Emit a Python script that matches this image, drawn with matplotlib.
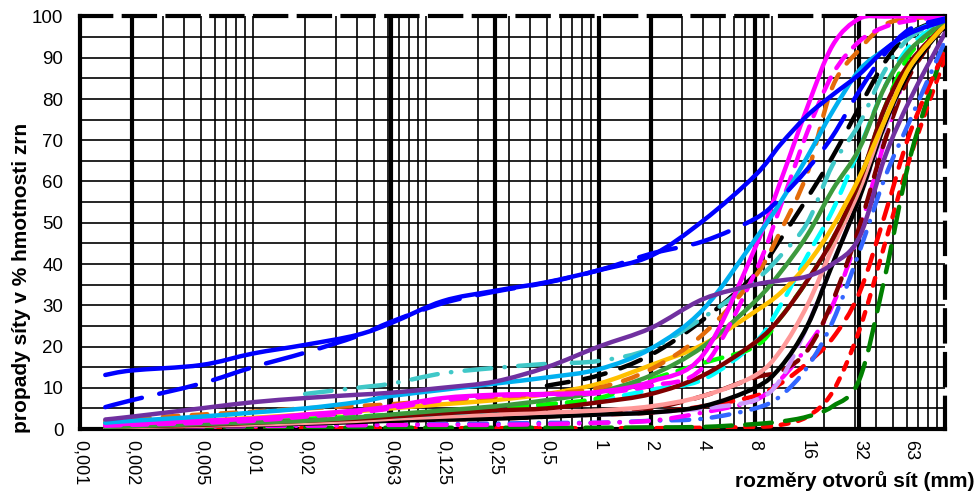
import numpy as np
import matplotlib
matplotlib.use("Agg")
import matplotlib.pyplot as plt
from matplotlib.path import Path
from matplotlib.patches import PathPatch

plt.rcParams['font.family'] = ['Liberation Sans', 'DejaVu Sans']

# --- sítové velikosti (mm), společné pro všechny křivky ---
sieve = [0.0014, 0.002, 0.005, 0.01, 0.02, 0.04, 0.063, 0.125, 0.25, 0.5, 1,
         2, 4, 8, 11.2, 16, 22.4, 32, 45, 63, 100]

# --- propady (%), None = křivka tam není ---
blue_solid = [13.1, 14.2, 15.5, 18.3, 20.4, 22.8, 25.7, 31, 33.5, 35.6, 38.5, 42, 50.5, 61.5, 69, 76, 81, 86, 92, 96, 99]
blue_dash = [5.3, 7, 11, 15, 18.5, 22.5, 26, 30.5, 33.3, 35.5, 38.5, 42.5, 45.5, 51, 56, 63, 71, 82, 91, 97, 99.5]
purple = [2.3, 3, 5, 6.5, 7.5, 8.3, 8.8, 10, 11.5, 15, 20, 24.5, 31.5, 35, 36, 37, 40, 46.5, 66, 80, 96]
light_blue = [1.5, 2, 3, 4, 5, 6.5, 8, 9.5, 11, 12.5, 14.5, 19.5, 29, 46, 55, 66, 77, 87, 92, 96, 99.5]
teal = [None, None, None, None, 8.5, 10, 11, 13.5, 14.8, 15.8, 16.5, 19.5, 27, 36, 42, 50, 64, 74, 87, 95, 99]
black_dash = [None, None, None, None, None, None, None, None, None, 10.5, 13, 18, 26.5, 37.5, 46, 56, 66, 78, 89, 96, 99.5]
orange_dash = [2, 2.5, 3.5, 4.2, 5, 5.6, 6, 7, 7.8, 8.5, 10, 14.5, 23, 37, 48, 62, 83, 92, 98, 99.5, 100]
magenta = [1, 1.3, 2, 2.5, 3.5, 4.5, 5.5, 7.5, 8.3, 8.5, 9, 11.5, 18, 44, 60, 78, 93, 99.5, 100, 100, 100]
magenta_dash = [0.8, 1, 1.5, 2, 3, 4, 5, 7, 8, 8.3, 8.7, 10.5, 15, 38, 54, 72, 86, 94, 97.5, 99, 100]
green = [0.5, 0.7, 1.2, 1.6, 2, 2.8, 3.5, 4.5, 5.5, 7, 9, 13, 20, 31, 38, 47, 58, 68, 83, 92, 99]
gold = [1, 1.3, 2, 2.7, 3.5, 4.3, 5, 6, 7, 8.5, 11, 15.5, 20.5, 28.5, 33, 40, 49, 61, 75, 88, 98]
maroon = [0.5, 0.7, 1, 1.5, 2, 2.5, 3, 3.8, 4.5, 5, 6.5, 8.5, 13, 21, 27, 36, 46, 60, 78, 89, 98]
salmon = [0.3, 0.5, 0.8, 1.1, 1.5, 2, 2.5, 3, 3.5, 4, 4.5, 5.5, 8, 13, 19, 30, 44, 58, 75, 88, 98]
black = [0.3, 0.4, 0.7, 1, 1.3, 1.7, 2, 2.3, 2.5, 3, 3.5, 4, 5.5, 10, 15, 25, 40, 56, 74, 87, 98]
lime_dash = [1.5, 1.7, 2, 2.3, 2.5, 3, 3.5, 4.2, 5, 6, 7.5, 12, 16, 20, 27, 36, 46, 60, 78, 91, 99]
cyan_dash = [1, 1.2, 1.5, 2, 2.3, 2.7, 3, 3.8, 4.5, 5.5, 7, 9.5, 12, 21, 30, 42, 53, 68, 83, 93, 99]
lavender_dash = [1.5, 1.6, 1.8, 2, 2.2, 2.4, 2.5, 2.8, 3, 3.2, 3.5, 4, 5, 7, 12, 25, 40, 56, 73, 88, 98]
darkred_dash = [1, 1.1, 1.3, 1.5, 1.7, 1.9, 2, 2.3, 2.5, 3, 4, 5, 8, 12.5, 14, 19, 31, 49, 70, 86, 98]
red_a = [1, 1.2, 1.4, 1.6, 2, 2.3, 2.5, 2.8, 3, 3.2, 3.5, 4, 5.5, 8, 11, 16, 22, 33, 52, 72, 92]
red_b = [0.2, 0.2, 0.2, 0.2, 0.2, 0.2, 0.2, 0.2, 0.2, 0.2, 0.2, 0.2, 0.3, 0.5, 1, 3, 9, 24, 45, 66, 90]
green_dash = [0.3, 0.3, 0.3, 0.3, 0.3, 0.3, 0.3, 0.3, 0.3, 0.3, 0.3, 0.4, 0.5, 1.2, 1.8, 3, 5.5, 12, 37, 66, 93]
royal_dashdot = [0.5, 0.6, 0.7, 0.8, 0.9, 1, 1, 1.2, 1.3, 1.5, 1.5, 2, 2.5, 5, 8, 15, 26, 43, 61, 75, 94]
magenta_dashdot = [0.5, 0.5, 0.6, 0.7, 0.8, 0.9, 1, 1, 1, 1.2, 1.5, 2, 4, 7, 12, 20, 30, 48, 70, 88, 98]

tick_vals = [0.001, 0.002, 0.005, 0.01, 0.02, 0.063, 0.125, 0.25, 0.5, 1, 2, 4, 8, 16, 32, 63]
tick_labels = ["0,001", "0,002", "0,005", "0,01", "0,02", "0,063", "0,125", "0,25", "0,5",
               "1", "2", "4", "8", "16", "32", "63"]
thick_lines = [0.002, 0.063, 0.25, 1, 2, 8, 32]

# (data, barva, styl čáry) - pořadí kreslení
curves = [
    (red_b, "#FF0000", (0, (1.8, 2.2))),
    (green_dash, "#008000", (0, (6, 3))),
    (red_a, "#FF0000", (0, (3.5, 2.5))),
    (royal_dashdot, "#3366FF", (0, (4, 2.5, 0.1, 2.5))),
    (magenta_dashdot, "#FF00FF", (0, (4, 2.5, 0.1, 2.5))),
    (darkred_dash, "#800000", (0, (4, 3))),
    (lavender_dash, "#CC99FF", (0, (4, 2.5))),
    (black, "black", "-"),
    (salmon, "#FF9999", "-"),
    (cyan_dash, "#00FFFF", (0, (4, 2.5))),
    (lime_dash, "#00FF00", (0, (4, 2.5))),
    (maroon, "#800000", "-"),
    (gold, "#FFC000", "-"),
    (green, "#3D9A3D", "-"),
    (black_dash, "black", (0, (5, 3.5))),
    (teal, "#40C8C8", (0, (6, 3, 0.1, 3))),
    (orange_dash, "#E46C0A", (0, (3.5, 3))),
    (magenta_dash, "#FF00FF", (0, (3.5, 2.5))),
    (magenta, "#FF00FF", "-"),
    (light_blue, "#00B0F0", "-"),
    (purple, "#7030A0", "-"),
    (blue_dash, "#0000FF", (0, (8.5, 4))),
    (blue_solid, "#0000FF", "-"),
]


def smooth_path(xs, ys):
    # vyhlazená čára (Bezier) jako v Excelu, v log-souřadnicích
    pts = np.column_stack([np.log10(xs), ys])
    n = len(pts)
    verts = [pts[0]]
    codes = [Path.MOVETO]
    for i in range(n - 1):
        p0 = pts[i - 1] if i > 0 else pts[i]
        p1, p2 = pts[i], pts[i + 1]
        p3 = pts[i + 2] if i + 2 < n else pts[i + 1]
        verts += [p1 + (p2 - p0) / 6, p2 - (p3 - p1) / 6, p2]
        codes += [Path.CURVE4] * 3
    verts = np.array(verts)
    verts[:, 0] = 10 ** verts[:, 0]
    return Path(verts, codes)


fig = plt.figure(figsize=(9.79, 4.94), dpi=100)
ax = fig.add_axes([80 / 979, 1 - 429 / 494, 865 / 979, 412.5 / 494])
ax.set_xscale("log")
ax.set_xlim(0.001, 100)
ax.set_ylim(0, 100)

# mřížka
for y in range(5, 100, 5):
    ax.axhline(y, color="black", lw=1.2, zorder=1)
for e in range(-3, 2):
    for k in range(1, 10):
        v = k * 10.0 ** e
        if 0.001 < v < 100:
            ax.axvline(v, color="black", lw=1.2, zorder=1)
for v in thick_lines:
    ax.axvline(v, color="black", lw=3, zorder=1.5)

for data, color, ls in curves:
    xs = [s for s, p in zip(sieve, data) if p is not None]
    ys = [p for p in data if p is not None]
    patch = PathPatch(smooth_path(xs, ys), fill=False, edgecolor=color, lw=3.2,
                      linestyle=ls, capstyle="round", joinstyle="round", zorder=3)
    ax.add_patch(patch)

ax.set_xticks(tick_vals)
ax.set_xticklabels(tick_labels, rotation=270, fontsize=13)
ax.xaxis.set_minor_locator(plt.NullLocator())
ax.set_yticks(range(0, 101, 10))
ax.tick_params(axis="y", labelsize=13.5, length=0, pad=12)
ax.tick_params(axis="x", length=0, pad=8)

for side in ["left", "bottom"]:
    ax.spines[side].set_linewidth(3)
for side in ["top", "right"]:
    ax.spines[side].set_linewidth(3)
    ax.spines[side].set_linestyle((0, (7.5, 3)))

fig.text(22 / 979, 1 - 278 / 494, "propady síty v % hmotnosti zrn", rotation=90,
         ha="center", va="center", fontsize=15, fontweight="bold")
fig.text(855 / 979, 1 - 481 / 494, "rozměry otvorů sít (mm)",
         ha="center", va="center", fontsize=15, fontweight="bold")

fig.savefig("out.png", dpi=100)
